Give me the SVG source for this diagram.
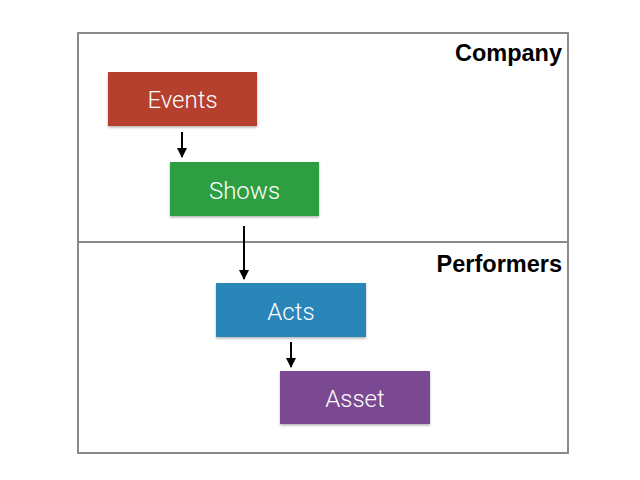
<svg xmlns="http://www.w3.org/2000/svg" width="640" height="480" viewBox="0 0 640 480">
<style>
.frame{fill:none;stroke:#8a8a8a;stroke-width:2}
.lane{font-family:"Liberation Sans",Arial,sans-serif;font-weight:bold;font-size:23.5px;fill:#000;text-anchor:end}
.box{filter:url(#sh)}
.lbl{font-family:Roboto,"Liberation Sans",sans-serif;font-weight:300;font-size:24px;fill:#fff;text-anchor:middle}
.conn line{stroke:#000;stroke-width:2;marker-end:url(#ah)}
</style>
<defs>
<marker id="ah" viewBox="0 0 10 10" refX="9" refY="5" markerWidth="5" markerHeight="5" orient="auto" markerUnits="strokeWidth">
<path d="M0,0 L10,5 L0,10 z" fill="#000"/>
</marker>
<filter id="sh" x="-10%" y="-10%" width="120%" height="130%">
<feDropShadow dx="0" dy="1.5" stdDeviation="1.2" flood-color="#000" flood-opacity="0.3"/>
</filter>
</defs>
<rect width="640" height="480" fill="#fff"/>
<g id="lanes">
<rect class="frame" x="78" y="33" width="490" height="420"/>
<line class="frame" x1="78" y1="242" x2="568" y2="242"/>
<text class="lane" x="562" y="61">Company</text>
<text class="lane" x="562" y="272">Performers</text>
</g>
<g class="conn" id="connectors">
<line x1="182" y1="132" x2="182" y2="157"/>
<line x1="244" y1="226" x2="244" y2="279"/>
<line x1="291" y1="342" x2="291" y2="367"/>
</g>
<g id="events"><rect class="box" x="108" y="72" width="149" height="54" fill="#b5412e"/><text class="lbl" x="182.5" y="108">Events</text></g>
<g id="shows"><rect class="box" x="170" y="162" width="149" height="54" fill="#2f9e43"/><text class="lbl" x="244.5" y="199">Shows</text></g>
<g id="acts"><rect class="box" x="216" y="283" width="150" height="54" fill="#2a85b9"/><text class="lbl" x="291" y="320">Acts</text></g>
<g id="asset"><rect class="box" x="280" y="371" width="150" height="53" fill="#7a4891"/><text class="lbl" x="355" y="407">Asset</text></g>
</svg>
